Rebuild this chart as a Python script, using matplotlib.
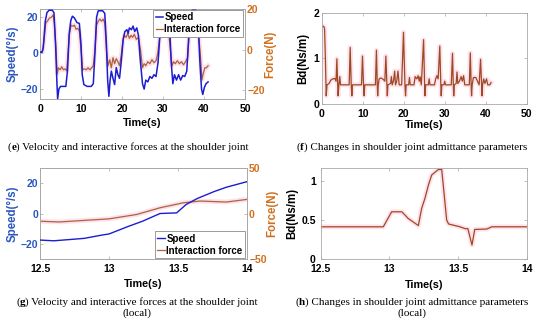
import matplotlib
matplotlib.use("Agg")
import matplotlib.pyplot as plt
from matplotlib.offsetbox import TextArea, HPacker, VPacker, AnnotationBbox

# ---------------- data ----------------
# (e) full-time speed and interaction force
t_speed = [0, 0.5, 0.8, 1.3, 1.7, 2.2, 3.0, 3.4, 3.8, 4.1, 4.3, 4.6, 5.0, 6.3, 6.7, 7.1, 7.5, 7.9, 8.4, 9.0,
           9.6, 10.0, 10.3, 10.7, 11.5, 12.5, 13.0, 13.4, 13.8, 14.2, 15.3, 15.8, 16.2, 16.5, 16.8, 17.1, 17.4,
           17.8, 18.2, 18.6, 19.0, 19.4, 19.8, 20.3, 20.7, 21.2, 21.5, 21.8, 22.3, 22.7, 23.1, 23.6, 24.0, 24.5,
           25.0, 25.4, 25.8, 26.3, 26.8, 27.3, 27.8, 28.3, 28.8, 29.3, 29.8, 31.0, 31.6, 32.0, 32.4, 32.8, 33.3,
           33.8, 34.3, 34.8, 35.3, 35.8, 36.3, 36.7, 37.1, 38.0, 38.6, 39.0, 39.4, 39.7, 40.1, 40.5, 41.0]
speed = [0.5, 0.5, 3, 18, 22.5, 23.8, 23.8, 22.5, 5, -15, -25.5, -20, -18.5, -18.5, -10, 10, 18, 20.5, 19.5, 17,
         16.5, 5, -12, -17.5, -18.5, -18.5, -17, 0, 20, 23.5, 23.5, 22, 5, -15, -24, -15, -10,
         -14, -17.5, -8, -12, -14, -5, 8, 12, 13, 11, 14, 13, 15, 12, 14, 10, -5,
         -17, -20, -15, -16, -13, -14, -12, -13, -5, 12, 17, 18, 15, -5, -17, -12, -15,
         -12, -15, -12.5, -13, -10, 10, 22, 23.8, 23.8, 15, -5, -20, -23, -19, -17, -16]

t_force = [0, 0.6, 1.0, 1.4, 1.8, 2.3, 2.8, 3.2, 3.5, 3.9, 4.2, 4.5, 4.9, 5.3, 5.7, 6.1, 6.5, 6.8, 7.2, 7.6,
           8.0, 8.4, 8.8, 9.2, 9.6, 10.0, 10.4, 10.8, 11.3, 11.7, 12.2, 12.6, 13.0, 13.4, 13.8, 14.2, 14.6,
           15.0, 15.4, 15.8, 16.2, 16.6, 17.0, 17.4, 17.8, 18.2, 18.6, 19.0, 19.4, 19.8, 20.2, 20.6, 21.0,
           21.4, 21.8, 22.2, 22.6, 23.0, 23.5, 24.0, 24.5, 25.0, 25.4, 25.8, 26.3, 26.8, 27.3, 27.8, 28.3,
           28.7, 29.2, 29.7, 30.5, 31.3, 31.8, 32.2, 32.6, 33.0, 33.5, 34.0, 34.5, 35.0, 35.5, 36.0, 36.4,
           36.8, 37.5, 38.3, 38.8, 39.2, 39.5, 39.8, 40.2, 40.6, 41.0]
force = [-1, -1, 5, 13, 14, 15.5, 16, 17, 13, 0, -12, -9, -10, -8.5, -10, -9.5, -10.5, -3, 8, 12,
         11.5, 12, 10, 10.5, 9, 0, -10, -9.5, -10, -9, -10, -9, -8, 0, 12, 14, 15,
         14, 15, 13, 0, -8, -5, -9, -4, -7, -4.5, -6, -8, -3, 4, 7, 6,
         8, 5.5, 7, 6, 7.5, 5, 6, 0, -9, -7, -8, -6, -7, -5, -6.5, -5.5,
         -2, 6, 10, 11, 10, 0, -8, -6, -7, -5.5, -7, -6, -7.5, -6, -4, 8,
         14, 15, 14, 5, -5, -15, -12, -9, -9, -8]

# (f) full-time damping parameter Bd
t_bd = [0, 0.5, 0.7, 0.9, 1.1, 1.3, 1.8, 2.2, 2.7, 3.2, 3.5, 3.7, 3.9, 4.0, 4.2, 4.4, 4.6, 6.7, 6.95, 7.2,
        7.35, 7.5, 9.7, 9.95, 10.2, 10.35, 10.5, 13.1, 13.35, 13.55, 13.65, 13.8, 14.0, 14.5, 15.0, 15.4,
        15.65, 15.9, 16.0, 16.15, 16.8, 17.0, 17.2, 17.5, 17.8, 18.0, 18.3, 18.6, 18.9, 19.5, 19.95, 20.3,
        20.45, 20.6, 21.2, 21.4, 21.6, 22.5, 22.8, 23.2, 23.5, 23.8, 24.0, 24.3, 24.85, 25.1, 25.2, 25.35,
        26.0, 26.2, 26.4, 27.5, 27.8, 28.1, 28.4, 28.8, 29.05, 29.15, 29.3, 29.8, 30.0, 30.2, 31.6, 31.9,
        32.1, 32.2, 32.35, 32.8, 33.0, 33.2, 33.6, 34.0, 34.3, 34.6, 34.9, 36.0, 36.25, 36.45, 36.55, 36.7,
        37.0, 37.6, 38.0, 38.4, 38.75, 39.0, 39.1, 39.25, 39.5, 39.8, 40.2, 40.5, 41.0, 41.3]
bd = [1.7, 1.7, 1.65, 1.0, 0.18, 0.42, 0.45, 0.52, 0.55, 0.56, 0.5, 0.99, 0.42, 0.18, 0.42, 0.6, 0.42, 0.42, 1.24, 0.42,
      0.18, 0.42, 0.42, 1.05, 0.42, 0.18, 0.42, 0.42, 1.18, 0.42, 0.18, 0.42, 0.55, 0.57, 0.54, 0.5,
      1.05, 0.42, 0.18, 0.42, 0.45, 0.6, 0.42, 0.5, 0.72, 0.42, 0.5, 0.72, 0.42, 0.42, 1.57, 0.42,
      0.18, 0.42, 0.42, 0.58, 0.42, 0.42, 0.6, 0.55, 0.62, 0.5, 0.6, 0.42, 1.41, 0.42, 0.18, 0.42,
      0.42, 0.55, 0.42, 0.42, 0.55, 0.62, 0.55, 1.27, 0.42, 0.18, 0.42, 0.42, 0.5, 0.42, 0.42, 1.11,
      0.42, 0.18, 0.42, 0.45, 0.7, 0.45, 0.5, 0.6, 0.5, 0.62, 0.42, 0.42, 1.12, 0.42, 0.18, 0.42,
      0.58, 0.58, 0.5, 0.42, 0.98, 0.42, 0.18, 0.42, 0.55, 0.45, 0.55, 0.42, 0.42, 0.47]

# (g) local speed and force (12.5 - 14 s)
t_loc_speed = [12.5, 12.6, 12.82, 12.95, 13.0, 13.14, 13.24, 13.37, 13.49, 13.56, 13.64, 13.76, 13.85, 14.0]
speed_loc = [-17.5, -18, -16.4, -14.2, -13.5, -8.5, -5.2, 0, 0.4, 6, 9.9, 14.4, 17.3, 21]
t_loc_force = [12.5, 12.64, 12.84, 13.0, 13.2, 13.37, 13.54, 13.66, 13.85, 14.0]
force_loc = [-8.5, -9.3, -7.4, -5.9, -1.1, 6.3, 11.8, 13.7, 12.6, 15.5]

# (h) local Bd (12.5 - 14 s)
t_loc_bd = [12.5, 12.955, 13.016, 13.09, 13.137, 13.21, 13.234, 13.258, 13.283, 13.307, 13.355, 13.38,
            13.416, 13.43, 13.513, 13.55, 13.57, 13.6, 13.62, 13.707, 13.744, 14.0]
bd_loc = [0.414, 0.414, 0.607, 0.607, 0.52, 0.43, 0.65, 0.78, 0.95, 1.08, 1.15, 1.15,
          0.5, 0.45, 0.414, 0.39, 0.39, 0.18, 0.38, 0.385, 0.414, 0.414]

cap_letters = ["e", "f", "g", "h"]
cap_texts = ["Velocity and interactive forces at the shoulder joint",
             "Changes in shoulder joint admittance parameters",
             "Velocity and interactive forces at the shoulder joint",
             "Changes in shoulder joint admittance parameters"]
cap_second = [None, None, "(local)", "(local)"]

# ---------------- style ----------------
SANS = "Liberation Sans"
SERIF = "Liberation Serif"
C_LEFT = "#2a56c0"
C_RIGHT = "#d0701e"
C_SPEED = "#1c1cd0"
C_FORCE = "#a8653f"
C_BD = "#9c4a24"
HALO = "#ffc8dc"
FS = 7.5
FL = 7.8
FYL = 8.3

fig = plt.figure(figsize=(5.5, 3.26), dpi=100)


def style(ax, left_color="black"):
    for s in ax.spines.values():
        s.set_color("#a8a8a8")
        s.set_linewidth(0.6)
    ax.tick_params(direction="in", length=2, width=0.5, color="#a8a8a8",
                   top=True, right=True, labelsize=FS)
    ax.tick_params(axis="x", pad=3.5)
    ax.tick_params(axis="y", pad=1.5)
    for lab in ax.get_xticklabels() + ax.get_yticklabels():
        lab.set_fontfamily(SANS)
        lab.set_fontweight("bold")
    for lab in ax.get_yticklabels():
        lab.set_color(left_color)


def halo(ax, x, y):
    ax.plot(x, y, color=HALO, lw=3.5, alpha=0.55, solid_joinstyle="round", zorder=1)


def legend(ax, handles, loc, anchor):
    leg = ax.legend(handles=handles, loc=loc, bbox_to_anchor=anchor,
                    prop={"family": SANS, "weight": "bold", "size": 7.0},
                    frameon=True, fancybox=False, edgecolor="#8a8a8a", framealpha=1,
                    handlelength=0.75, handletextpad=0.15, labelspacing=0.2, borderpad=0.25,
                    borderaxespad=0.0)
    leg.get_frame().set_linewidth(0.6)
    leg.set_zorder(10)
    return leg


def xlabel(ax, y):
    ax.set_xlabel("Time(s)", fontfamily=SANS, fontweight="bold", fontsize=FL, labelpad=0)
    ax.xaxis.set_label_coords(0.5, y)


# ---- (e)
axe = fig.add_axes([40 / 550, 1 - 99 / 326, 205 / 550, 90 / 326])
axe2 = axe.twinx()
axe.set_zorder(axe2.get_zorder() + 1)
axe.patch.set_visible(False)
halo(axe2, t_force, force)
l2, = axe2.plot(t_force, force, color=C_FORCE, lw=0.9, zorder=2, label="Interaction force")
l1, = axe.plot(t_speed, speed, color=C_SPEED, lw=1.1, zorder=3, label="Speed")
axe.set_xlim(0, 50)
axe.set_ylim(-25.5, 24.5)
axe2.set_ylim(-24.4, 20)
axe.set_xticks([0, 10, 20, 30, 40, 50])
axe.set_yticks([-20, 0, 20])
axe2.set_yticks([-20, 0, 20])
style(axe, C_LEFT)
style(axe2, C_RIGHT)
axe.tick_params(right=False)
axe2.tick_params(left=False)
axe.set_ylabel("Speed(°/s)", fontfamily=SANS, fontweight="bold", fontsize=FYL, color=C_LEFT, labelpad=1)
axe2.set_ylabel("Force(N)", fontfamily=SANS, fontweight="bold", fontsize=FYL, color=C_RIGHT, labelpad=0)
xlabel(axe, -0.21)
legend(axe, [l1, l2], "upper right", (0.99, 0.99))

# ---- (f)
axf = fig.add_axes([321.7 / 550, 1 - 104 / 326, 205 / 550, 91.3 / 326])
halo(axf, t_bd, bd)
axf.plot(t_bd, bd, color=C_BD, lw=0.9, zorder=2)
axf.set_xlim(0, 50)
axf.set_ylim(0, 2)
axf.set_xticks([0, 10, 20, 30, 40, 50])
axf.set_yticks([0, 1, 2])
style(axf)
axf.set_ylabel("Bd(Ns/m)", fontfamily=SANS, fontweight="bold", fontsize=FYL, labelpad=3)
xlabel(axf, -0.175)

# ---- (g)
axg = fig.add_axes([40 / 550, 1 - 259 / 326, 207 / 550, 91 / 326])
axg2 = axg.twinx()
axg.set_zorder(axg2.get_zorder() + 1)
axg.patch.set_visible(False)
halo(axg2, t_loc_force, force_loc)
g2, = axg2.plot(t_loc_force, force_loc, color=C_FORCE, lw=0.9, zorder=2, label="Interaction force")
g1, = axg.plot(t_loc_speed, speed_loc, color=C_SPEED, lw=1.0, zorder=3, label="Speed")
axg.set_xlim(12.5, 14)
axg.set_ylim(-30, 30)
axg2.set_ylim(-50, 50)
axg.set_xticks([12.5, 13, 13.5, 14])
axg.set_xticklabels(["12.5", "13", "13.5", "14"])
axg.set_yticks([-20, 0, 20])
axg2.set_yticks([-50, 0, 50])
style(axg, C_LEFT)
style(axg2, C_RIGHT)
axg.tick_params(right=False)
axg2.tick_params(left=False)
axg.set_ylabel("Speed(°/s)", fontfamily=SANS, fontweight="bold", fontsize=FYL, color=C_LEFT, labelpad=1)
axg2.set_ylabel("Force(N)", fontfamily=SANS, fontweight="bold", fontsize=FYL, color=C_RIGHT, labelpad=0)
xlabel(axg, -0.22)
legend(axg, [g1, g2], "lower right", (0.99, 0.01))

# ---- (h)
axh = fig.add_axes([320.7 / 550, 1 - 259 / 326, 206.3 / 550, 91 / 326])
halo(axh, t_loc_bd, bd_loc)
axh.plot(t_loc_bd, bd_loc, color=C_BD, lw=0.9, zorder=2)
axh.set_xlim(12.5, 14)
axh.set_ylim(0, 1.17)
axh.set_xticks([12.5, 13, 13.5, 14])
axh.set_xticklabels(["12.5", "13", "13.5", "14"])
axh.set_yticks([0, 0.5, 1])
axh.set_yticklabels(["0", "0.5", "1"])
style(axh)
axh.tick_params(axis="y", pad=3.5)
axh.set_ylabel("Bd(Ns/m)", fontfamily=SANS, fontweight="bold", fontsize=FYL, labelpad=2)
xlabel(axh, -0.23)

# ---- captions (bold panel letter)
cap_pos = [(128 / 550, 1 - 147 / 326), (412 / 550, 1 - 147 / 326),
           (137 / 550, 1 - 308 / 326), (412 / 550, 1 - 308 / 326)]
CAP_FS = 8
for (x, y), letter, txt, second in zip(cap_pos, cap_letters, cap_texts, cap_second):
    props = dict(family=SERIF, size=CAP_FS)
    row = HPacker(children=[TextArea("(", textprops=props),
                            TextArea(letter, textprops=dict(props, weight="bold")),
                            TextArea(") " + txt, textprops=props)],
                  pad=0, sep=0, align="baseline")
    rows = [row]
    if second:
        rows.append(TextArea(second, textprops=props))
    box = VPacker(children=rows, pad=0, sep=1, align="center")
    ab = AnnotationBbox(box, (x, y), xycoords="figure fraction", frameon=False,
                        box_alignment=(0.5, 0.5), pad=0)
    fig.add_artist(ab)

fig.savefig("out.png", dpi=100)
